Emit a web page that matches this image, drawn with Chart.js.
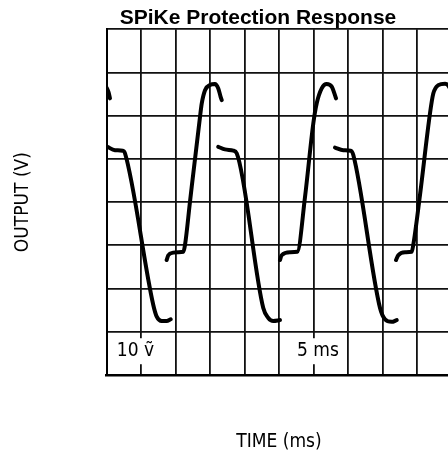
<!DOCTYPE html>
<html>
<head>
<meta charset="utf-8">
<script src="https://cdn.jsdelivr.net/npm/chart.js@4.4.1/dist/chart.umd.min.js"></script>
<style>
  html, body { margin: 0; padding: 0; background: #fff; overflow: hidden; }
  canvas { display: block; }
</style>
</head>
<body>
<canvas id="scope" width="516" height="458"></canvas>
<script>
// trace, 5 ms/div and 10 V/div; null = pen lifted
const timeMs = [
  0.0, 0.3, 0.5, null,
  0.12, 1.23, 2.35, 2.68, 6.78, 7.28, 8.0, 8.72, 9.30, null,
  8.72, 8.96, 9.68, 10.41, 11.13, 11.38, 12.10, 13.55, 13.80, 14.28, 15.0, 15.72, 16.2, 16.55, 16.7, null,
  16.2, 17.17, 18.38, 18.87, 22.72, 23.45, 24.17, 25.14, null,
  25.14, 25.39, 26.59, 27.65, 28.77, 29.97, 30.46, 31.19, 31.91, 32.64, 33.12, 33.26, null,
  33.12, 34.32, 35.39, 35.77, 39.64, 40.36, 41.33, 42.06, null,
  41.96, 42.29, 43.26, 44.23, 44.46, 45.43, 46.88, 47.36, 48.09, 49.06, 49.49, 50.07
];
const outputV = [
  26.5, 25.4, 24.0, null,
  12.8, 12.0, 11.9, 11.3, -23.8, -26.5, -27.5, -27.5, -27.1, null,
  -13.4, -12.3, -11.7, -11.6, -11.5, -9.9, 0.1, 19.7, 22.8, 25.9, 27.1, 27.3, 26.3, 24.3, 23.6, null,
  12.8, 12.2, 11.9, 11.3, -24.5, -26.8, -27.5, -27.3, null,
  -13.4, -12.3, -11.6, -11.5, 1.2, 18.2, 22.8, 26.3, 27.3, 26.7, 24.7, 24.0, null,
  12.6, 12.0, 11.9, 10.9, -24.5, -27.1, -27.7, -27.3, null,
  -13.4, -12.3, -11.6, -11.5, -9.9, 1.6, 20.5, 25.1, 27.05, 27.4, 27.05, 25.4
];

// scale notes printed on the graticule
const noteText = ["10 \u1E7D", "5 ms"];
const noteTime = [4.2, 30.65];
const noteVolt = [-34.5, -34.5];

const narrow = "'DejaVu Sans Condensed', 'DejaVu Sans', sans-serif";

const points = timeMs.map((t, i) => ({
  x: t === null ? timeMs[i - 1] : t,
  y: outputV[i]
}));

const scaleNotes = {
  id: "scaleNotes",
  beforeDatasetsDraw(chart) {
    const { ctx, scales: { x, y } } = chart;
    ctx.save();
    ctx.font = "19px " + narrow;
    ctx.textAlign = "center";
    ctx.textBaseline = "middle";
    noteText.forEach((txt, i) => {
      const px = x.getPixelForValue(noteTime[i]);
      const py = y.getPixelForValue(noteVolt[i]);
      const w = ctx.measureText(txt).width + 6;
      ctx.fillStyle = "#fff";
      ctx.fillRect(px - w / 2, py - 13, w, 26);
      ctx.fillStyle = "#000";
      ctx.fillText(txt, px, py);
    });
    ctx.restore();
  }
};

new Chart(document.getElementById("scope"), {
  type: "line",
  data: {
    datasets: [{
      data: points,
      borderColor: "#000",
      borderWidth: 4,
      borderCapStyle: "round",
      borderJoinStyle: "round",
      pointRadius: 0,
      cubicInterpolationMode: "monotone",
      spanGaps: false
    }]
  },
  options: {
    responsive: false,
    animation: false,
    layout: { padding: 0 },
    plugins: {
      legend: { display: false },
      tooltip: { enabled: false },
      title: {
        display: true,
        text: "SPiKe Protection Response",
        color: "#000",
        font: { family: "'Liberation Sans', Arial, sans-serif", size: 21, weight: "bold" },
        padding: { top: 6, bottom: -2 }
      }
    },
    scales: {
      x: {
        type: "linear",
        min: 0,
        max: 50,
        ticks: { stepSize: 5, display: false },
        grid: { color: "#111", lineWidth: 1.8, drawTicks: false },
        border: { color: "#000", width: 2.5 },
        title: {
          display: true,
          text: "TIME (ms)",
          color: "#000",
          font: { family: narrow, size: 19 },
          padding: { top: 0, bottom: 5 }
        },
        afterFit(s) { s.height = 83; }
      },
      y: {
        min: -40,
        max: 40,
        ticks: { stepSize: 10, display: false },
        grid: { color: "#111", lineWidth: 1.8, drawTicks: false },
        border: { color: "#000", width: 2 },
        title: {
          display: true,
          text: "OUTPUT (V)",
          color: "#000",
          font: { family: narrow, size: 19 },
          padding: { top: 12, bottom: 0 }
        },
        afterFit(s) { s.width = 106.5; }
      },
      spare: {
        type: "linear",
        position: "right",
        ticks: { display: false },
        grid: { display: false, drawTicks: false },
        border: { display: false },
        afterFit(s) { s.width = 64.5; }
      }
    }
  },
  plugins: [scaleNotes]
});
</script>
</body>
</html>
